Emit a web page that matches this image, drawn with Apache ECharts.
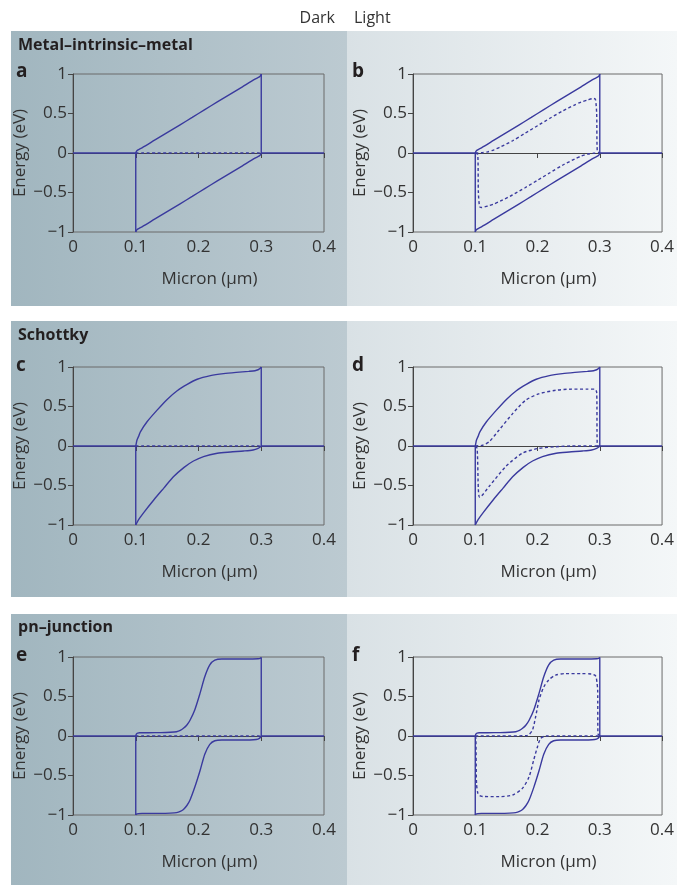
<!DOCTYPE html>
<html>
<head>
<meta charset="utf-8">
<script src="https://cdn.jsdelivr.net/npm/echarts@6/dist/echarts.min.js"></script>
<style>
html, body { margin: 0; padding: 0; background: #fff; }
#chart { width: 677px; height: 885px; }
</style>
</head>
<body>
<div id="chart"></div>
<script>
// ticks
const xTicks = [0, 0.1, 0.2, 0.3, 0.4]
const yTicks = [-1, -0.5, 0, 0.5, 1]

// metal contacts (Fermi level at 0)
const metalLeftX = [0, 0.1]
const metalRightX = [0.3, 0.4]
const metalY = [0, 0]
// dark Fermi level (dashed, a c e)
const darkFermiX = [0.1, 0.3]
const darkFermiY = [0, 0]

// metal-intrinsic-metal bands (a, b)
const mimX = [0.1, 0.101, 0.103, 0.106, 0.11, 0.13, 0.15, 0.17, 0.19, 0.21, 0.23, 0.25, 0.27, 0.29, 0.294, 0.297, 0.299, 0.3]
const mimCB = [0, 0.02, 0.037, 0.05, 0.066, 0.162, 0.258, 0.354, 0.45, 0.55, 0.646, 0.742, 0.838, 0.934, 0.95, 0.963, 0.98, 1.0]
const mimVB = [-1, -0.98, -0.963, -0.95, -0.934, -0.838, -0.742, -0.646, -0.55, -0.45, -0.354, -0.258, -0.162, -0.066, -0.05, -0.037, -0.02, 0]
// quasi-Fermi levels under light (b)
const mimUpX = [0.1, 0.11, 0.12, 0.13, 0.14, 0.16, 0.18, 0.2, 0.22, 0.24, 0.26, 0.27, 0.28, 0.29, 0.293, 0.295, 0.296, 0.3]
const mimUpY = [0, 0.003, 0.015, 0.04, 0.075, 0.155, 0.25, 0.345, 0.44, 0.53, 0.61, 0.645, 0.67, 0.69, 0.68, 0.5, 0.02, 0]
const mimLowX = [0.1, 0.104, 0.105, 0.107, 0.11, 0.12, 0.13, 0.14, 0.16, 0.18, 0.2, 0.22, 0.24, 0.26, 0.27, 0.28, 0.29, 0.3]
const mimLowY = [0, -0.02, -0.5, -0.68, -0.69, -0.67, -0.645, -0.61, -0.53, -0.44, -0.345, -0.25, -0.155, -0.075, -0.04, -0.015, -0.003, 0]

// schottky bands (c, d)
const schCBX = [0.1, 0.101, 0.102, 0.105, 0.1074, 0.118, 0.134, 0.15, 0.166, 0.182, 0.198, 0.219, 0.24, 0.26, 0.28, 0.29, 0.295, 0.298, 0.3]
const schCB = [0, 0.04, 0.076, 0.13, 0.18, 0.307, 0.454, 0.59, 0.70, 0.78, 0.845, 0.89, 0.916, 0.932, 0.945, 0.953, 0.965, 0.98, 1.0]
const schVBX = [0.1, 0.1048, 0.113, 0.129, 0.145, 0.16, 0.177, 0.192, 0.208, 0.23, 0.251, 0.272, 0.287, 0.295, 0.299, 0.3]
const schVB = [-1, -0.93, -0.84, -0.68, -0.53, -0.39, -0.27, -0.19, -0.134, -0.092, -0.076, -0.063, -0.05, -0.03, -0.01, 0]
// quasi-Fermi levels under light (d)
const schUpX = [0.1, 0.112, 0.1225, 0.138, 0.16, 0.181, 0.202, 0.229, 0.255, 0.28, 0.292, 0.295, 0.296, 0.3]
const schUpY = [0, 0.01, 0.055, 0.2, 0.41, 0.58, 0.66, 0.705, 0.72, 0.72, 0.72, 0.68, 0.01, 0]
const schLowX = [0.1, 0.103, 0.105, 0.107, 0.1225, 0.149, 0.176, 0.202, 0.229, 0.255, 0.3]
const schLowY = [0, -0.03, -0.55, -0.65, -0.51, -0.26, -0.09, -0.03, -0.01, 0, 0]

// pn-junction bands (e, f)
const pnCBX = [0.1, 0.101, 0.103, 0.106, 0.12, 0.14, 0.155, 0.165, 0.171, 0.176, 0.1815, 0.1865, 0.194, 0.2024, 0.21, 0.218, 0.226, 0.237, 0.26, 0.282, 0.295, 0.299, 0.3]
const pnCB = [0, 0.025, 0.037, 0.041, 0.042, 0.043, 0.047, 0.054, 0.07, 0.097, 0.14, 0.2, 0.33, 0.54, 0.75, 0.9, 0.96, 0.975, 0.975, 0.975, 0.977, 0.985, 0.995]
const pnVBX = [0.1, 0.101, 0.104, 0.11, 0.14, 0.155, 0.165, 0.171, 0.176, 0.1815, 0.1865, 0.194, 0.2024, 0.21, 0.218, 0.226, 0.237, 0.26, 0.282, 0.292, 0.297, 0.3]
const pnVB = [-1, -0.99, -0.982, -0.979, -0.979, -0.976, -0.97, -0.955, -0.93, -0.88, -0.81, -0.65, -0.44, -0.23, -0.105, -0.06, -0.05, -0.05, -0.05, -0.045, -0.03, 0]
// quasi-Fermi levels under light (f)
const pnUpX = [0.1, 0.14, 0.183, 0.1865, 0.192, 0.197, 0.2024, 0.21, 0.218, 0.229, 0.245, 0.271, 0.287, 0.292, 0.294, 0.2955, 0.2966, 0.297, 0.3]
const pnUpY = [0, 0, 0.005, 0.02, 0.076, 0.245, 0.456, 0.62, 0.71, 0.77, 0.79, 0.79, 0.785, 0.77, 0.75, 0.68, 0.58, 0.03, 0]
const pnLowX = [0.1, 0.101, 0.102, 0.104, 0.107, 0.112, 0.1386, 0.16, 0.176, 0.1865, 0.194, 0.2, 0.205, 0.213, 0.3]
const pnLowY = [0, -0.03, -0.6, -0.72, -0.755, -0.765, -0.768, -0.747, -0.66, -0.515, -0.30, -0.135, -0.03, 0, 0]

const lineColor = '#3a3a9e'
const font = 'Open Sans'

function zip (xs, ys) {
  return xs.map((x, i) => [x, ys[i]])
}

const panels = [
  { cb: [mimX, mimCB], vb: [mimX, mimVB], dash: [[darkFermiX, darkFermiY]] },
  { cb: [mimX, mimCB], vb: [mimX, mimVB], dash: [[mimUpX, mimUpY], [mimLowX, mimLowY]] },
  { cb: [schCBX, schCB], vb: [schVBX, schVB], dash: [[darkFermiX, darkFermiY]] },
  { cb: [schCBX, schCB], vb: [schVBX, schVB], dash: [[schUpX, schUpY], [schLowX, schLowY]] },
  { cb: [pnCBX, pnCB], vb: [pnVBX, pnVB], dash: [[darkFermiX, darkFermiY]] },
  { cb: [pnCBX, pnCB], vb: [pnVBX, pnVB], dash: [[pnUpX, pnUpY], [pnLowX, pnLowY]] }
]

const lefts = [73, 413]
const tops = [74, 367, 657]
const grids = []
const xAxes = []
const yAxes = []
const series = []

const tickText = { fontSize: 17, color: '#333', fontFamily: font }

panels.forEach(function (p, i) {
  grids.push({
    left: lefts[i % 2],
    top: tops[Math.floor(i / 2)],
    width: 251,
    height: 158,
    show: true,
    borderColor: '#6a6a6a',
    borderWidth: 1,
    backgroundColor: 'transparent'
  })
  xAxes.push({
    type: 'value',
    gridIndex: i,
    min: xTicks[0],
    max: xTicks[xTicks.length - 1],
    interval: 0.1,
    name: 'Micron (μm)',
    nameLocation: 'middle',
    nameGap: 39,
    nameTextStyle: Object.assign({ padding: [0, 0, 0, 22] }, tickText),
    axisLine: { lineStyle: { color: '#444', width: 1 } },
    axisTick: { show: true, length: 5, lineStyle: { color: '#444' } },
    axisLabel: Object.assign({ margin: 7 }, tickText),
    splitLine: { show: false }
  })
  yAxes.push({
    type: 'value',
    gridIndex: i,
    min: yTicks[0],
    max: yTicks[yTicks.length - 1],
    interval: 0.5,
    name: 'Energy (eV)',
    nameLocation: 'middle',
    nameGap: 44,
    nameTextStyle: tickText,
    axisLine: { show: true, onZero: false, lineStyle: { color: '#444', width: 1 } },
    axisTick: { show: true, length: 5, lineStyle: { color: '#444' } },
    axisLabel: Object.assign({
      margin: 6,
      formatter: function (v) { return v < 0 ? '−' + Math.abs(v) : String(v) }
    }, tickText),
    splitLine: { show: false }
  })
  const base = {
    type: 'line',
    xAxisIndex: i,
    yAxisIndex: i,
    symbol: 'none',
    silent: true,
    z: 3
  }
  const solid = { color: lineColor, width: 1.4 }
  const cbLast = p.cb[1][p.cb[1].length - 1]
  // left metal + vertical edge at 0.1
  series.push(Object.assign({}, base, {
    data: zip(metalLeftX, metalY).concat([[0.1, p.vb[1][0]]]),
    lineStyle: solid
  }))
  // vertical edge at 0.3 + right metal
  series.push(Object.assign({}, base, {
    data: [[0.3, cbLast]].concat(zip(metalRightX, metalY)),
    lineStyle: solid
  }))
  // valence and conduction bands
  ;[p.vb, p.cb].forEach(function (b) {
    series.push(Object.assign({}, base, {
      data: zip(b[0], b[1]),
      smooth: 0.25,
      lineStyle: solid
    }))
  })
  p.dash.forEach(function (d) {
    series.push(Object.assign({}, base, {
      data: zip(d[0], d[1]),
      smooth: 0.25,
      lineStyle: { color: lineColor, width: 1.4, type: [3, 2.5] }
    }))
  })
})

function bg (x, y, w, h, c1, c2) {
  return {
    type: 'rect',
    z: -100,
    silent: true,
    shape: { x: x, y: y, width: w, height: h },
    style: {
      fill: new echarts.graphic.LinearGradient(0, 0, 1, 0, [
        { offset: 0, color: c1 },
        { offset: 1, color: c2 }
      ])
    }
  }
}
function txt (x, y, s, opt) {
  return {
    type: 'text',
    x: x,
    y: y,
    silent: true,
    style: Object.assign({
      text: s,
      fontFamily: font,
      fontSize: 16,
      fill: '#333',
      verticalAlign: 'middle'
    }, opt || {})
  }
}

const rows = [[31, 275], [321, 276], [614, 271]]
const graphics = []
rows.forEach(function (r) {
  graphics.push(bg(11, r[0], 336, r[1], '#a1b6bf', '#bccad1'))
  graphics.push(bg(347, r[0], 330, r[1], '#d9e1e5', '#f4f7f8'))
})
const bold = { fontWeight: 'bold', fontSize: 16, fill: '#231f20' }
graphics.push(txt(335, 18, 'Dark', { align: 'right' }))
graphics.push(txt(354, 18, 'Light', { align: 'left' }))
graphics.push(txt(18, 45, 'Metal–intrinsic–metal', bold))
graphics.push(txt(18, 335, 'Schottky', bold))
graphics.push(txt(18, 627, 'pn–junction', bold))
const letters = [['a', 16, 72], ['b', 352, 72], ['c', 16, 366], ['d', 352, 366], ['e', 16, 656], ['f', 352, 656]]
letters.forEach(function (l) {
  graphics.push(txt(l[1], l[2], l[0], { fontWeight: 'bold', fontSize: 19, fill: '#231f20' }))
})

const myChart = echarts.init(document.getElementById('chart'))
myChart.setOption({
  animation: false,
  backgroundColor: '#fff',
  graphic: { elements: graphics },
  grid: grids,
  xAxis: xAxes,
  yAxis: yAxes,
  series: series
})
</script>
</body>
</html>
